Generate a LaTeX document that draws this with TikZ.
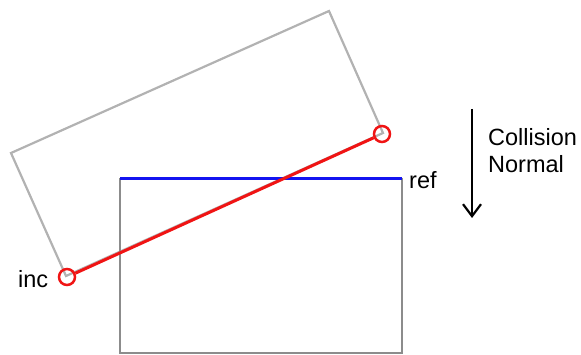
\documentclass[tikz,border=0pt]{standalone}
\usepackage{fontspec}
\setmainfont{Liberation Sans}
\usetikzlibrary{arrows.meta}
\definecolor{lightgr}{RGB}{178,178,178}
\definecolor{darkgr}{RGB}{140,140,140}
\definecolor{refblue}{RGB}{20,20,240}
\definecolor{incred}{RGB}{240,20,20}
\tikzset{
  box1/.style={draw=lightgr, line width=2.2pt, line join=miter},
  box2/.style={draw=darkgr, line width=2.2pt},
  refedge/.style={draw=refblue, line width=3pt},
  incline/.style={draw=incred, line width=3pt},
  endpt/.style={circle, draw=incred, line width=2.5pt, minimum size=16pt, inner sep=0pt},
  lbl/.style={font=\fontsize{23.5}{27}\selectfont, inner sep=0pt, anchor=base west},
  normalarrow/.style={draw=black, line width=2.2pt, -{Straight Barb[length=12pt,width=18pt,line width=2.2pt]}}
}
\begin{document}
\begin{tikzpicture}[x=1pt,y=-1pt]
\useasboundingbox (0,0) rectangle (581,355);
% incident box (rotated)
\coordinate (a) at (11,153);
\coordinate (b) at (329,11);
\coordinate (c) at (383,133);
\coordinate (d) at (66,276);
\draw[box1] (a) -- (b) -- (c) -- (d) -- cycle;
% reference box
\coordinate (r1) at (120,179);
\coordinate (r2) at (402,353);
\draw[box2] (r1) rectangle (r2);
\coordinate (rtr) at (402,179);
\draw[refedge] (r1) -- (rtr);
% incident segment
\node[endpt] (p1) at (67,277) {};
\node[endpt] (p2) at (382,134) {};
\draw[incline] (p1) -- (p2);
% labels
\node[lbl] (inc) at (18,288) {inc};
\node[lbl] (ref) at (409,189) {ref};
\node[lbl] (col) at (488,146) {Collision};
\node[lbl] (nor) at (488,173) {Normal};
% collision normal arrow
\coordinate (n1) at (472,109);
\coordinate (n2) at (472,218);
\draw[normalarrow] (n1) -- (n2);
\end{tikzpicture}
\end{document}
